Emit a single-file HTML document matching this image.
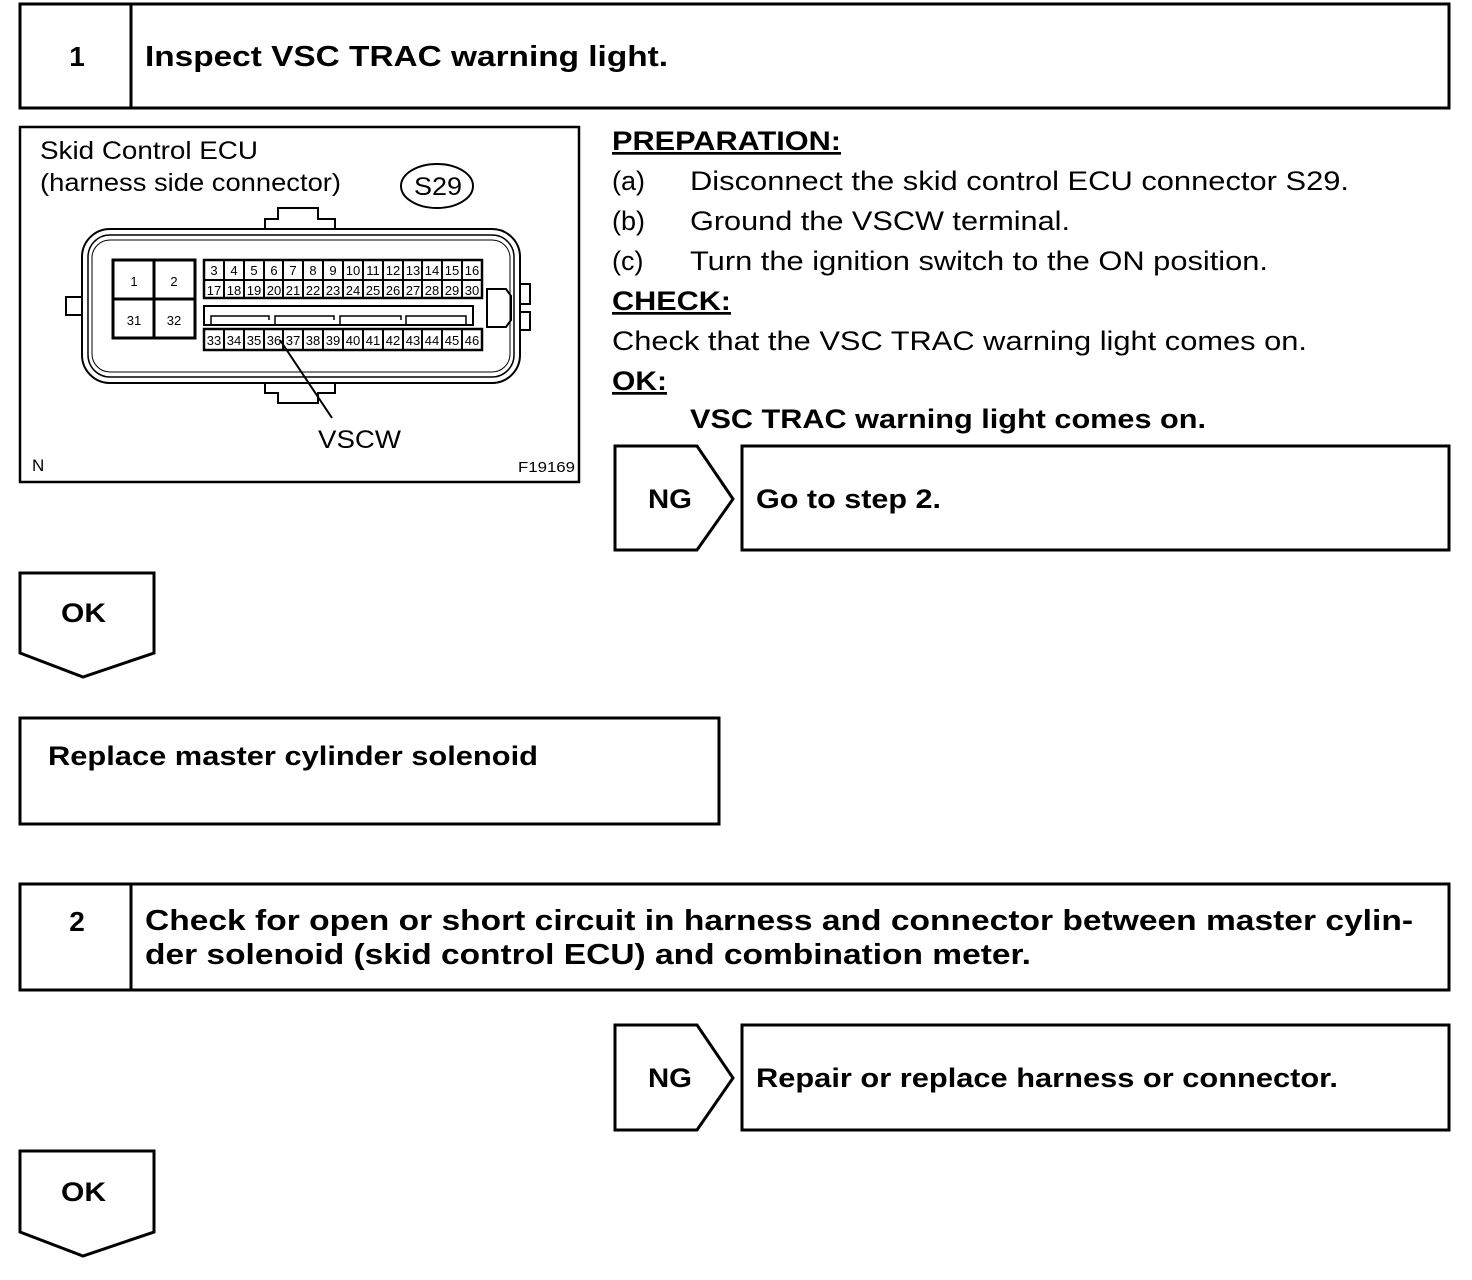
<!DOCTYPE html>
<html><head><meta charset="utf-8"><style>
html,body{margin:0;padding:0;background:#fff;}
svg{display:block;}
text{font-family:"Liberation Sans",Arial,sans-serif;fill:#000;}
.b{font-weight:bold;}
</style></head><body>
<svg width="1472" height="1280" viewBox="0 0 1472 1280" xmlns="http://www.w3.org/2000/svg">
<g fill="none" stroke="#000" stroke-width="3">
<rect x="20" y="4" width="1429" height="104"/>
<line x1="131" y1="4" x2="131" y2="108"/>
<rect x="20" y="127" width="559" height="355" stroke-width="2.5"/>
<polygon points="615,446 697,446 733,499 697,550 615,550"/>
<rect x="742" y="446" width="707" height="104"/>
<polygon points="20,573 154,573 154,653 83,677 20,653"/>
<rect x="20" y="718" width="699" height="106"/>
<rect x="20" y="884" width="1429" height="106"/>
<line x1="131" y1="884" x2="131" y2="990"/>
<polygon points="615,1025 697,1025 733,1078 697,1130 615,1130"/>
<rect x="742" y="1025" width="707" height="105"/>
<polygon points="20,1151 154,1151 154,1232 83,1256 20,1232"/>
</g>
<g lengthAdjust="spacingAndGlyphs">
<text x="77" y="66" font-size="28" class="b" text-anchor="middle">1</text>
<text x="145" y="66" font-size="29" class="b" textLength="523" lengthAdjust="spacingAndGlyphs">Inspect VSC TRAC warning light.</text>
<text x="77" y="931" font-size="28" class="b" text-anchor="middle">2</text>
<text x="145" y="930" font-size="29" class="b" textLength="1268" lengthAdjust="spacingAndGlyphs">Check for open or short circuit in harness and connector between master cylin-</text>
<text x="145" y="964" font-size="29" class="b" textLength="886" lengthAdjust="spacingAndGlyphs">der solenoid (skid control ECU) and combination meter.</text>
<text x="612" y="150" font-size="27" class="b" text-decoration="underline" textLength="229" lengthAdjust="spacingAndGlyphs">PREPARATION:</text>
<text x="612" y="190" font-size="27">(a)</text><text x="690" y="190" font-size="27" textLength="659" lengthAdjust="spacingAndGlyphs">Disconnect the skid control ECU connector S29.</text>
<text x="612" y="230" font-size="27">(b)</text><text x="690" y="230" font-size="27" textLength="380" lengthAdjust="spacingAndGlyphs">Ground the VSCW terminal.</text>
<text x="612" y="270" font-size="27">(c)</text><text x="690" y="270" font-size="27" textLength="578" lengthAdjust="spacingAndGlyphs">Turn the ignition switch to the ON position.</text>
<text x="612" y="310" font-size="27" class="b" text-decoration="underline" textLength="119" lengthAdjust="spacingAndGlyphs">CHECK:</text>
<text x="612" y="350" font-size="27" textLength="695" lengthAdjust="spacingAndGlyphs">Check that the VSC TRAC warning light comes on.</text>
<text x="612" y="390" font-size="27" class="b" text-decoration="underline" textLength="55" lengthAdjust="spacingAndGlyphs">OK:</text>
<text x="690" y="428" font-size="27" class="b" textLength="516" lengthAdjust="spacingAndGlyphs">VSC TRAC warning light comes on.</text>
<text x="648" y="508" font-size="27" class="b" textLength="44" lengthAdjust="spacingAndGlyphs">NG</text>
<text x="756" y="508" font-size="27" class="b" textLength="185" lengthAdjust="spacingAndGlyphs">Go to step 2.</text>
<text x="61" y="622" font-size="27" class="b" textLength="45" lengthAdjust="spacingAndGlyphs">OK</text>
<text x="48" y="765" font-size="27" class="b" textLength="490" lengthAdjust="spacingAndGlyphs">Replace master cylinder solenoid</text>
<text x="648" y="1087" font-size="27" class="b" textLength="44" lengthAdjust="spacingAndGlyphs">NG</text>
<text x="756" y="1087" font-size="27" class="b" textLength="582" lengthAdjust="spacingAndGlyphs">Repair or replace harness or connector.</text>
<text x="61" y="1201" font-size="27" class="b" textLength="45" lengthAdjust="spacingAndGlyphs">OK</text>
<!-- diagram -->
<text x="40" y="159" font-size="25" textLength="218" lengthAdjust="spacingAndGlyphs">Skid Control ECU</text>
<text x="40" y="191" font-size="25" textLength="301" lengthAdjust="spacingAndGlyphs">(harness side connector)</text>
<text x="414" y="195" font-size="25" textLength="48" lengthAdjust="spacingAndGlyphs">S29</text>
<text x="32" y="471" font-size="17">N</text>
<text x="518" y="472" font-size="15" textLength="57" lengthAdjust="spacingAndGlyphs">F19169</text>
<text x="318" y="448" font-size="25" textLength="83" lengthAdjust="spacingAndGlyphs">VSCW</text>
</g>
<ellipse cx="437" cy="186" rx="36" ry="22" fill="none" stroke="#000" stroke-width="2"/>
<g fill="none" stroke="#000" stroke-width="2">
<path d="M265,229 V219 H278 V208 H318 V219 H335 V229"/>
<path d="M265,383 V393 H278 V403 H318 V393 H335 V383"/>
<rect x="82" y="229" width="438" height="154" rx="28"/>
<rect x="88" y="235" width="426" height="142" rx="22" stroke-width="1.5"/>
<rect x="92" y="240" width="418" height="132" rx="18" stroke-width="1"/>
<path d="M82,297 H66 V315 H82"/>
<path d="M520,284 H530 V304 H520 M520,312 H530 V330 H520"/>
<path d="M487,289 H506 L511,296 V320 L506,327 H487 Z"/>
<rect x="113" y="260" width="82" height="78" stroke-width="3"/>
<line x1="154" y1="260" x2="154" y2="338" stroke-width="3"/>
<line x1="113" y1="299" x2="195" y2="299" stroke-width="3"/>
<rect x="204" y="260" width="278" height="38" stroke-width="2.5"/>
<line x1="204" y1="280" x2="482" y2="280"/>
<rect x="204" y="329" width="278" height="21" stroke-width="2.5"/>
<path d="M224,260V298M244,260V298M264,260V298M283,260V298M303,260V298M323,260V298M343,260V298M363,260V298M383,260V298M403,260V298M422,260V298M442,260V298M462,260V298"/>
<path d="M224,329V350M244,329V350M264,329V350M283,329V350M303,329V350M323,329V350M343,329V350M363,329V350M383,329V350M403,329V350M422,329V350M442,329V350M462,329V350"/>
<rect x="204" y="306" width="269" height="19"/>
<path d="M211,325 V316 H269 V320 M275,325 V316 H334 V320 M340,325 V316 H401 V320 M406,325 V316 H466 V325" stroke-width="1.5"/>
<line x1="280" y1="340" x2="332" y2="418"/>
</g>
<g font-size="13" text-anchor="middle">
<text x="134" y="286">1</text><text x="174" y="286">2</text><text x="134" y="325">31</text><text x="174" y="325">32</text>
</g>
<g font-size="13" text-anchor="middle">
<text x="214" y="275">3</text><text x="234" y="275">4</text><text x="254" y="275">5</text><text x="274" y="275">6</text><text x="293" y="275">7</text><text x="313" y="275">8</text><text x="333" y="275">9</text><text x="353" y="275">10</text><text x="373" y="275">11</text><text x="393" y="275">12</text><text x="413" y="275">13</text><text x="432" y="275">14</text><text x="452" y="275">15</text><text x="472" y="275">16</text>
<text x="214" y="295">17</text><text x="234" y="295">18</text><text x="254" y="295">19</text><text x="274" y="295">20</text><text x="293" y="295">21</text><text x="313" y="295">22</text><text x="333" y="295">23</text><text x="353" y="295">24</text><text x="373" y="295">25</text><text x="393" y="295">26</text><text x="413" y="295">27</text><text x="432" y="295">28</text><text x="452" y="295">29</text><text x="472" y="295">30</text>
<text x="214" y="345">33</text><text x="234" y="345">34</text><text x="254" y="345">35</text><text x="274" y="345">36</text><text x="293" y="345">37</text><text x="313" y="345">38</text><text x="333" y="345">39</text><text x="353" y="345">40</text><text x="373" y="345">41</text><text x="393" y="345">42</text><text x="413" y="345">43</text><text x="432" y="345">44</text><text x="452" y="345">45</text><text x="472" y="345">46</text>
</g>
</svg>
</body></html>
